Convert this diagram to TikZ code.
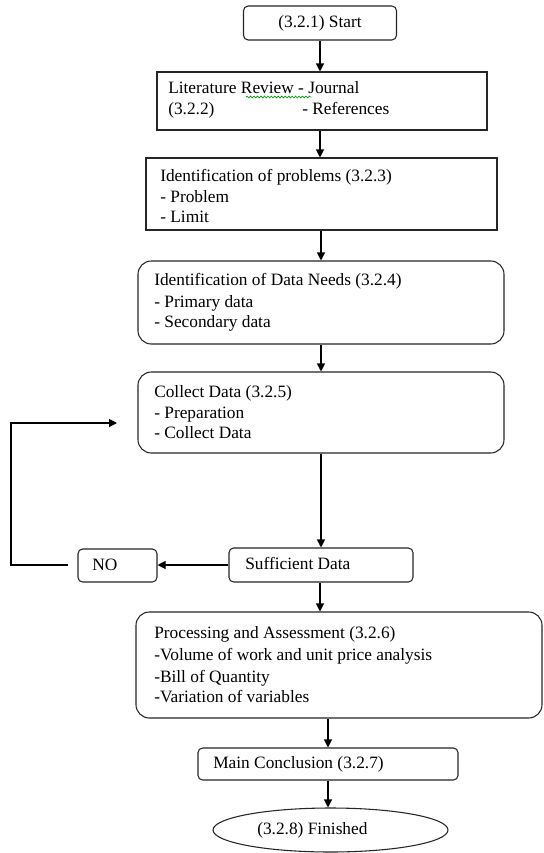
\documentclass[tikz,border=0pt]{standalone}
\usepackage{fontspec}
\setmainfont{Liberation Serif}
\usetikzlibrary{arrows.meta,shapes.geometric,decorations.pathmorphing}
\newlength\px
\setlength\px{0.75pt}
\begin{document}
\begin{tikzpicture}[x=0.75pt,y=-0.75pt,
  every node/.style={font=\fontsize{13pt}{15pt}\selectfont},
  boxbase/.style={draw=black!85,line width=0.8pt,inner sep=0pt,fill=none},
  sqbox/.style={boxbase},
  rsmall/.style={boxbase,rounded corners=3.5pt},
  rbig/.style={boxbase,rounded corners=10pt},
  txt/.style={anchor=base west,inner sep=0pt},
  arr/.style={line width=0.8pt,-{Triangle[length=6pt,width=6pt]}},
  ln/.style={line width=0.8pt}]
\useasboundingbox (0,0) rectangle (543,853);
\fill[white] (0,0) rectangle (543,853);

% boxes
\node[rsmall,minimum width=153\px,minimum height=34\px] (start) at (320,23) {(3.2.1) Start};
\node[sqbox,minimum width=330\px,minimum height=58\px] (lit) at (322,101) {};
\node[sqbox,minimum width=351\px,minimum height=72\px] (ident) at (321.5,194) {};
\node[rbig,minimum width=366\px,minimum height=83\px] (needs) at (321,302.5) {};
\node[rbig,minimum width=366\px,minimum height=81\px] (collect) at (321,412.5) {};
\node[rsmall,minimum width=184\px,minimum height=34\px] (suff) at (321,565) {};
\node[rsmall,minimum width=79\px,minimum height=33\px] (no) at (117.5,565.5) {};
\node[rbig,minimum width=406\px,minimum height=106\px] (proc) at (339,665) {};
\node[rsmall,minimum width=260\px,minimum height=32\px] (main) at (328,764) {};
\node[ellipse,boxbase,minimum width=235\px,minimum height=44\px] (fin) at (330.5,830) {};

% texts
\node[txt] (litA) at (168,93) {Literature Review - Journal};
\node[txt] (litB) at (168,114) {(3.2.2)};
\node[txt] (litC) at (302,114) {- References};
\draw[green!60!black,line width=0.5pt,decorate,decoration={snake,amplitude=0.7pt,segment length=2.6pt}] (246,97) -- (311,97);

\node[txt] (idA) at (160,181) {Identification of problems (3.2.3)};
\node[txt] (idB) at (160,202) {- Problem};
\node[txt] (idC) at (160,222) {- Limit};

\node[txt] (ndA) at (154,285) {Identification of Data Needs (3.2.4)};
\node[txt] (ndB) at (154,307) {- Primary data};
\node[txt] (ndC) at (154,327) {- Secondary data};

\node[txt] (clA) at (154,397) {Collect Data (3.2.5)};
\node[txt] (clB) at (154,418) {- Preparation};
\node[txt] (clC) at (154,438) {- Collect Data};

\node[txt] (sfA) at (245,569) {Sufficient Data};
\node[txt] (noA) at (92,570) {NO};

\node[txt] (prA) at (154,638) {Processing and Assessment (3.2.6)};
\node[txt] (prB) at (154,660) {-Volume of work and unit price analysis};
\node[txt] (prC) at (154,682) {-Bill of Quantity};
\node[txt] (prD) at (154,702) {-Variation of variables};

\node[txt] (mnA) at (213,768) {Main Conclusion (3.2.7)};
\node[txt] (fnA) at (257,834) {(3.2.8) Finished};

% connectors
\draw[arr] (start.south) -- (start.south |- lit.north);
\draw[arr] (lit.south -| start.south) -- (ident.north -| start.south);
\draw[arr] (ident.south -| needs.north) -- (needs.north);
\draw[arr] (needs.south) -- (collect.north);
\draw[arr] (collect.south) -- (suff.north);
\draw[arr] (suff.west) -- (suff.west -| no.east);
\draw[arr] (suff.south -| start.south) -- (proc.north -| start.south);
\draw[arr] (proc.south -| main.north) -- (main.north);
\draw[arr] (main.south) -- (main.south |- fin.north);

\coordinate (fbA) at (68,565);
\coordinate (fbB) at (11,565);
\coordinate (fbC) at (11,423);
\coordinate (fbD) at (117,423);
\draw[arr] (fbA) -- (fbB) -- (fbC) -- (fbD);
\end{tikzpicture}
\end{document}
